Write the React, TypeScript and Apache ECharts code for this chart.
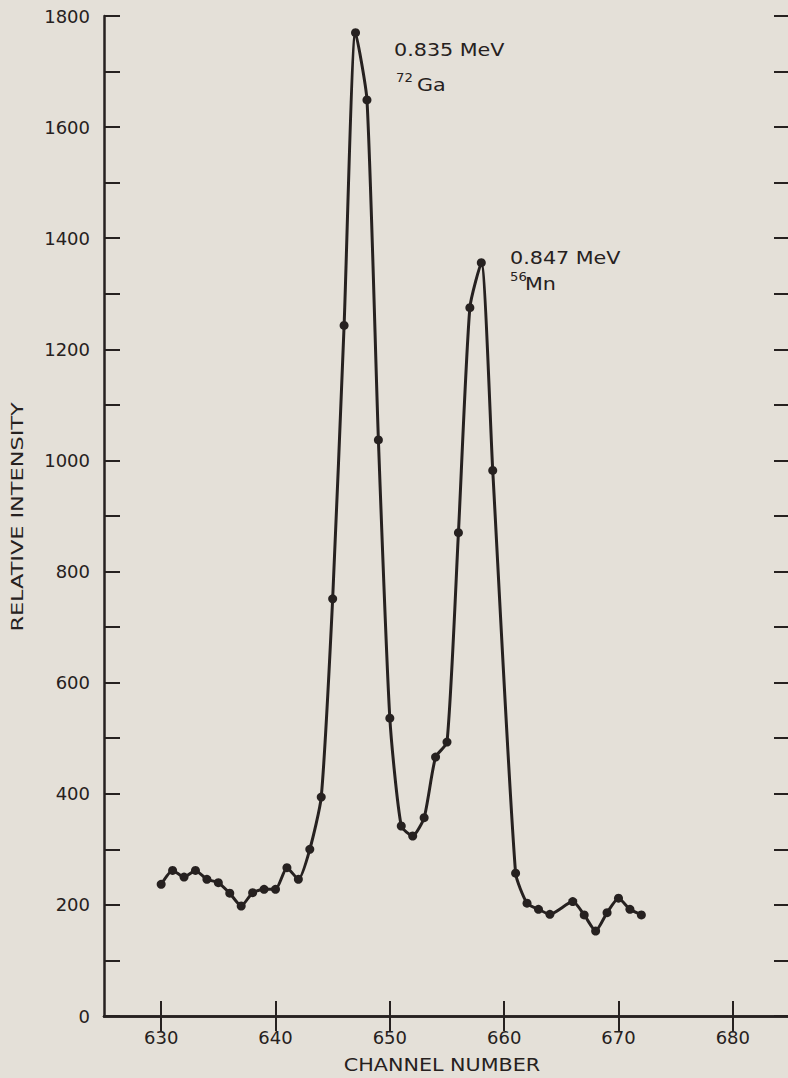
import React, { useEffect, useRef } from "react";
import * as echarts from "echarts";

// Channel numbers of the plotted points (no dots visible at 660 and 665)
const channels = [
  630, 631, 632, 633, 634, 635, 636, 637, 638, 639, 640, 641, 642, 643, 644,
  645, 646, 647, 648, 649, 650, 651, 652, 653, 654, 655, 656, 657, 658, 659,
  661, 662, 663, 664, 666, 667, 668, 669, 670, 671, 672,
];
// Relative intensity
const intensities = [
  237, 262, 250, 262, 246, 240, 221, 198, 222, 228, 228, 267, 246, 300, 394,
  751, 1243, 1770, 1649, 1037, 536, 342, 324, 357, 466, 493, 870, 1275, 1356, 982,
  257, 203, 192, 183, 206, 182, 153, 186, 212, 192, 182,
];
const xTickValues = [630, 640, 650, 660, 670, 680];
const yLabelValues = [0, 200, 400, 600, 800, 1000, 1200, 1400, 1600, 1800];
const xAxisTitle = "CHANNEL NUMBER";
const yAxisTitle = "RELATIVE INTENSITY";
const peakEnergies = ["0.835 MeV", "0.847 MeV"];
const peakMasses = ["72", "56"];
const peakElements = ["Ga", "Mn"];

const BG = "#e4e0d8";
const INK = "#262120";
const FONT = "DejaVu Sans";

export default function App() {
  const ref = useRef<HTMLDivElement>(null);
  useEffect(() => {
    if (!ref.current) return;
    const chart = echarts.init(ref.current, null, { renderer: "svg" });
    const data = channels.map((c, i) => [c, intensities[i]]);
    const lineStyle = { color: INK, width: 2.5 };
    const tickStyle = { color: INK, width: 2 };
    const labelPos = [
      { x: 394, y: 50, mx: 396, my: 78, ex: 417, ey: 85 },
      { x: 510, y: 258, mx: 510, my: 277, ex: 525, ey: 284 },
    ];
    const graphics: any[] = [];
    peakEnergies.forEach((t, i) => {
      const p = labelPos[i];
      graphics.push({
        type: "text", x: p.x, y: p.y, scaleX: 1.15,
        style: { text: t, fill: INK, font: `18px '${FONT}'`, textAlign: "left", textVerticalAlign: "middle" },
      });
      graphics.push({
        type: "text", x: p.mx, y: p.my, scaleX: 1.1,
        style: { text: peakMasses[i], fill: INK, font: `12px '${FONT}'`, textAlign: "left", textVerticalAlign: "middle" },
      });
      graphics.push({
        type: "text", x: p.ex, y: p.ey, scaleX: 1.15,
        style: { text: peakElements[i], fill: INK, font: `18px '${FONT}'`, textAlign: "left", textVerticalAlign: "middle" },
      });
    });
    graphics.push({
      type: "text", x: 442, y: 1065, scaleX: 1.15,
      style: { text: xAxisTitle, fill: INK, font: `18px '${FONT}'`, textAlign: "center", textVerticalAlign: "middle" },
    });
    graphics.push({
      type: "text", x: 18, y: 517, rotation: Math.PI / 2, scaleX: 1.4,
      style: { text: yAxisTitle, fill: INK, font: `16px '${FONT}'`, textAlign: "center", textVerticalAlign: "middle" },
    });

    chart.setOption({
      animation: false,
      backgroundColor: BG,
      grid: { left: 104, top: 16, width: 686, height: 1000, outerBoundsMode: "none", containLabel: false },
      xAxis: [
        {
          type: "value", min: 625, max: 685, interval: 5, position: "bottom",
          axisLine: { show: true, lineStyle },
          axisTick: { show: true, inside: true, length: 15, customValues: xTickValues, lineStyle: tickStyle },
          axisLabel: { customValues: xTickValues, color: INK, fontSize: 18, fontFamily: FONT, margin: 12 },
          splitLine: { show: false },
        },
        {
          type: "value", min: 625, max: 685, interval: 5, position: "top",
          axisLine: { show: true, lineStyle },
          axisTick: { show: true, inside: true, length: 15, customValues: xTickValues, lineStyle: tickStyle },
          axisLabel: { show: false },
          splitLine: { show: false },
        },
      ],
      yAxis: [
        {
          type: "value", min: 0, max: 1800, interval: 100, position: "left",
          axisLine: { show: true, lineStyle },
          axisTick: { show: true, inside: true, length: 16, lineStyle: tickStyle },
          axisLabel: {
            customValues: yLabelValues, color: INK, fontSize: 18, fontFamily: FONT, margin: 14,
            formatter: (v: number) => String(v),
          },
          splitLine: { show: false },
        },
        {
          type: "value", min: 0, max: 1800, interval: 100, position: "right",
          axisLine: { show: false },
          axisTick: { show: true, inside: true, length: 16, lineStyle: tickStyle },
          axisLabel: { show: false },
          splitLine: { show: false },
        },
      ],
      series: [
        {
          type: "line", xAxisIndex: 0, yAxisIndex: 0, data, smooth: 0.2,
          symbol: "circle", symbolSize: 9, showSymbol: true,
          itemStyle: { color: INK }, lineStyle: { color: INK, width: 3 },
          z: 5,
        },
      ],
      graphic: graphics,
    });
    return () => chart.dispose();
  }, []);
  return (
    <div
      ref={ref}
      style={{ position: "absolute", left: 0, top: 0, width: 788, height: 1078, background: BG }}
    />
  );
}
